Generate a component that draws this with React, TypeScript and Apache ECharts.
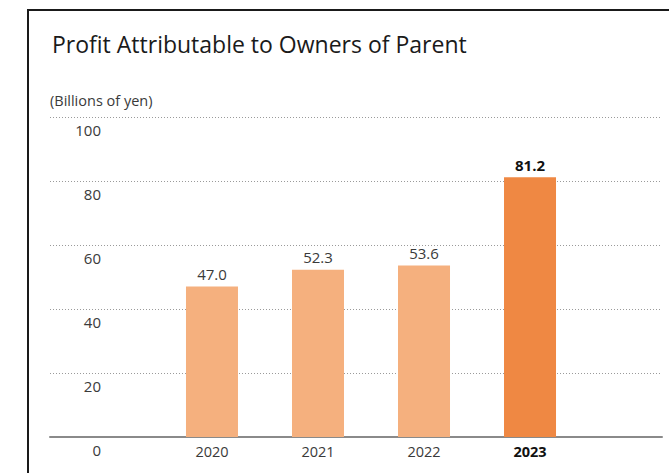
import React, { useEffect, useRef } from "react";
import * as echarts from "echarts";

const years = ["2020", "2021", "2022", "2023"];
const profit = [47.0, 52.3, 53.6, 81.2];
const yTicks = [0, 20, 40, 60, 80, 100];
const highlightYear = "2023";

const FONT = "'Open Sans', 'Noto Sans', sans-serif";

export default function App() {
  const ref = useRef<HTMLDivElement>(null);
  useEffect(() => {
    if (!ref.current) return;
    const chart = echarts.init(ref.current, undefined, { renderer: "svg" });
    const positions = years.map((_, i) => i + 1);
    const data = years.map((y, i) => {
      const hi = y === highlightYear;
      return {
        value: [positions[i], profit[i]],
        itemStyle: { color: hi ? "#EF8843" : "#F5B07E" },
        label: hi
          ? { fontWeight: "bold" as const, color: "#111" }
          : { fontWeight: "normal" as const, color: "#3a3a3a" },
      };
    });
    chart.setOption({
      animation: false,
      textStyle: { fontFamily: FONT },
      title: {
        text: "Profit Attributable to Owners of Parent",
        left: 47,
        top: 27,
        textStyle: { fontFamily: FONT, fontSize: 23, fontWeight: "normal", color: "#1a1a1a" },
      },
      graphic: [
        {
          type: "rect",
          shape: { x: 28, y: 10, width: 700, height: 520 },
          style: { fill: "none", stroke: "#1a1a1a", lineWidth: 2 },
          silent: true,
        },
        {
          type: "text",
          left: 50,
          top: 93,
          style: { text: "(Billions of yen)", fontFamily: FONT, fontSize: 14.5, fill: "#3a3a3a" },
        },
      ],
      grid: { left: 50, right: 7, top: 117, bottom: 36 },
      xAxis: {
        type: "value",
        min: -0.528,
        max: 5.245,
        splitLine: { show: false },
        axisTick: { show: false },
        axisLine: { show: true, onZero: false, lineStyle: { color: "#8a8a8a", width: 2 } },
        axisLabel: {
          customValues: positions,
          margin: 7,
          fontSize: 14.5,
          color: "#3a3a3a",
          fontFamily: FONT,
          formatter: (v: number) => {
            const y = years[Math.round(v) - 1] ?? "";
            return y === highlightYear ? `{b|${y}}` : y;
          },
          rich: { b: { fontWeight: "bold", color: "#111", fontSize: 14.5, fontFamily: FONT } },
        },
      },
      yAxis: {
        type: "value",
        min: yTicks[0],
        max: yTicks[yTicks.length - 1],
        interval: 20,
        axisLine: { show: false },
        axisTick: { show: false },
        axisLabel: {
          inside: true,
          margin: 51,
          align: "right",
          verticalAlign: "top",
          padding: [5, 0, 0, 0],
          fontSize: 15,
          color: "#3a3a3a",
          fontFamily: FONT,
        },
        splitLine: { show: true, lineStyle: { color: "#9a9a9a", type: [1, 2], width: 1 } },
      },
      series: [
        {
          type: "bar",
          barWidth: 52,
          data,
          label: {
            show: true,
            position: "top",
            distance: 5,
            fontSize: 15,
            fontFamily: FONT,
            formatter: (p: any) => (p.value[1] as number).toFixed(1),
          },
        },
      ],
    });
    return () => chart.dispose();
  }, []);
  return (
    <div
      ref={ref}
      style={{ position: "fixed", left: 0, top: 0, width: 669, height: 473, background: "#fff" }}
    />
  );
}
